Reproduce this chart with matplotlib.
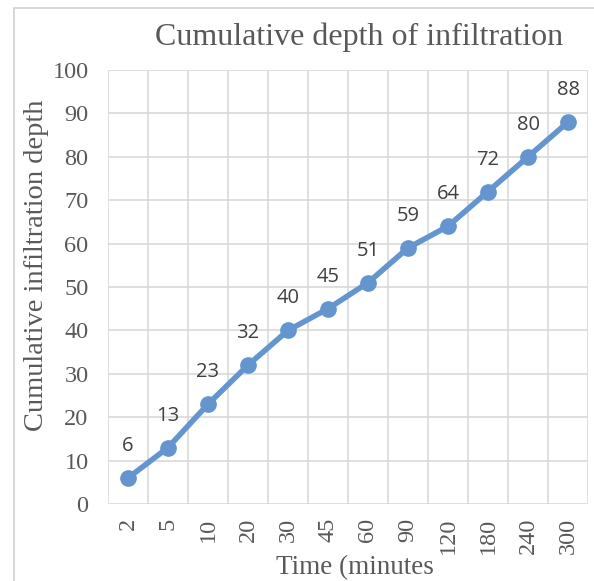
import matplotlib.pyplot as plt
from matplotlib.patches import Rectangle
import numpy as np

# infiltration test readings
times = ['2', '5', '10', '20', '30', '45', '60', '90', '120', '180', '240', '300']
depth = [6, 13, 23, 32, 40, 45, 51, 59, 64, 72, 80, 88]
yticks = [0, 10, 20, 30, 40, 50, 60, 70, 80, 90, 100]

W, H = 594, 581
fig = plt.figure(figsize=(W / 100, H / 100), dpi=100)
# outer chart frame
fig.patches.append(Rectangle((14 / W, -0.1), 1.2, (H - 8) / H + 0.1,
                             transform=fig.transFigure, fill=False,
                             edgecolor='#d0d0d0', linewidth=1.2))

ax = fig.add_axes([108 / W, (H - 504) / H, (588 - 108) / W, (504 - 70) / H])

serif = 'Liberation Serif'
grey = '#595959'
blue = '#6495cf'

x = np.arange(len(times))
ax.plot(x, depth, color=blue, linewidth=4, marker='o', markersize=11,
        markerfacecolor=blue, markeredgecolor=blue, zorder=3)
for xi, d in zip(x, depth):
    ax.annotate(str(d), (xi, d), xytext=(0, 23), textcoords='offset points',
                ha='center', va='center', fontsize=14.5, color='#404040',
                family='Open Sans')

ax.set_xlim(-0.5, len(times) - 0.5)
ax.set_ylim(0, 100)
ax.set_yticks(yticks)
ax.set_yticklabels([str(v) for v in yticks], family=serif, fontsize=17.5, color=grey)
ax.set_xticks(x)
ax.set_xticklabels(times, rotation=90, family=serif, fontsize=17.5, color=grey)
ax.set_xticks(np.arange(-0.5, len(times)), minor=True)

ax.grid(True, which='major', axis='y', color='#d9d9d9', linewidth=1.2)
ax.grid(True, which='minor', axis='x', color='#d9d9d9', linewidth=1.2)
ax.tick_params(axis='y', which='both', length=0, pad=14)
ax.tick_params(axis='x', which='both', length=0, pad=10)
for s in ax.spines.values():
    s.set_visible(False)
ax.set_axisbelow(True)

ax.set_title('Cumulative depth of infiltration', family=serif, fontsize=23,
             color=grey, pad=18, x=0.523)
ax.set_xlabel('Time (minutes', family=serif, fontsize=19.5, color=grey)
ax.xaxis.set_label_coords(0.515, -0.118)
ax.set_ylabel('Cumulative infiltration depth', family=serif, fontsize=20.5,
              color=grey)
ax.yaxis.set_label_coords(-0.123, 0.55)

fig.savefig('out.png', dpi=100)
